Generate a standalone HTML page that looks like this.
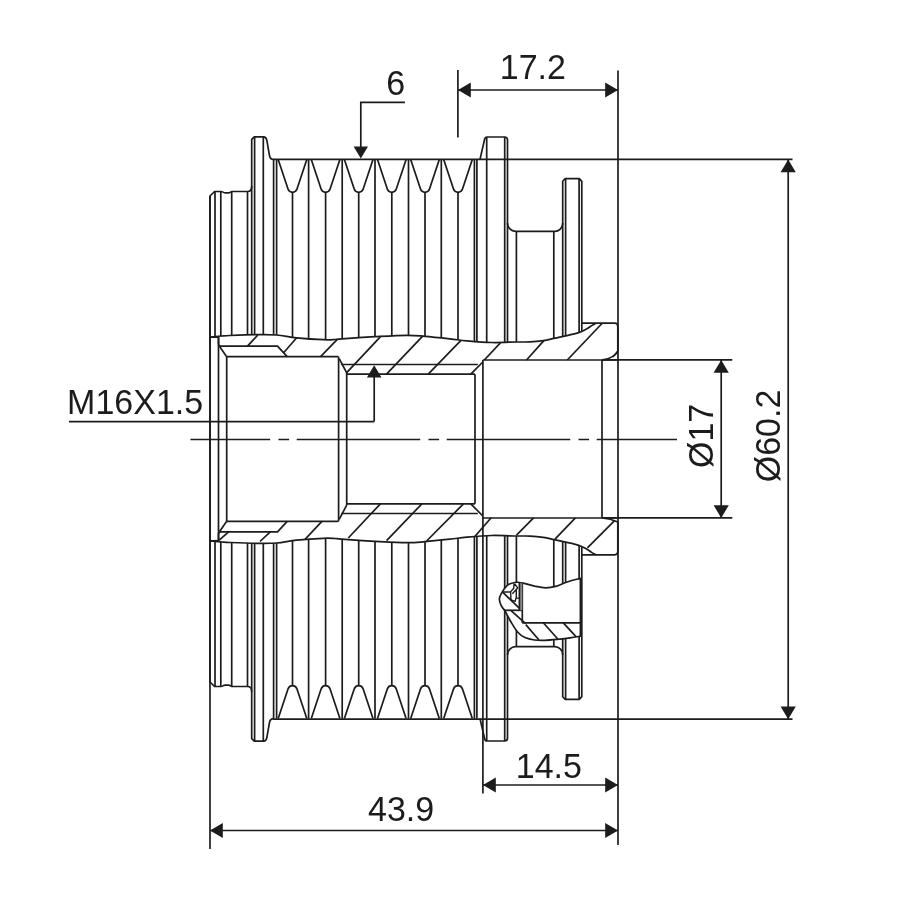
<!DOCTYPE html>
<html><head><meta charset="utf-8"><title>Pulley drawing</title>
<style>
html,body{margin:0;padding:0;background:#fff;}
body{width:900px;height:900px;overflow:hidden;}
svg{display:block;will-change:transform;}
.g path{fill:none;stroke:#1c1c1c;stroke-width:1.7;stroke-linecap:butt;stroke-linejoin:round;}
.d path{fill:none;stroke:#1c1c1c;stroke-width:1.7;}
text{font-family:"Liberation Sans",Arial,sans-serif;font-size:34px;fill:#1c1c1c;}
</style></head><body>
<svg width="900" height="900" viewBox="0 0 900 900">
<rect width="900" height="900" fill="#fff"/>
<g class="g">
<g id="uh"><path d="M210,439.0 L210,196 L214.6,191.5 L221,191.5 C223,191.5 223,192.8 225,192.8 L228.6,192.8 C230.5,192.8 230.5,191.5 232,191.5 L247.5,191.5 C250.5,191.5 251.7,190 251.7,186.5 L251.7,139.4 L254.3,136.9 L263.6,136.9 C265.6,136.9 266.3,137.8 266.8,140.2 L269.5,155.6 C270,158.4 271,159.4 273.6,159.4"/><path d="M278.20,159.40 L288.00,189.10 A4.75,4.75 0 0 0 297.00,189.10 L306.80,159.40"/><path d="M292.50,192.40 L292.50,337.21"/><path d="M311.30,159.40 L321.10,189.10 A4.75,4.75 0 0 0 330.10,189.10 L339.90,159.40"/><path d="M325.60,192.40 L325.60,339.66"/><path d="M344.40,159.40 L354.20,189.10 A4.75,4.75 0 0 0 363.20,189.10 L373.00,159.40"/><path d="M358.70,192.40 L358.70,337.73"/><path d="M377.50,159.40 L387.30,189.10 A4.75,4.75 0 0 0 396.30,189.10 L406.10,159.40"/><path d="M391.80,192.40 L391.80,335.96"/><path d="M410.70,159.40 L420.50,189.10 A4.75,4.75 0 0 0 429.50,189.10 L439.30,159.40"/><path d="M425.00,192.40 L425.00,336.30"/><path d="M443.70,159.40 L453.50,189.10 A4.75,4.75 0 0 0 462.50,189.10 L472.30,159.40"/><path d="M458.00,192.40 L458.00,339.76"/><path d="M276.60,159.40 L276.60,335.00"/><path d="M308.60,159.40 L308.60,338.65"/><path d="M342.20,159.40 L342.20,338.77"/><path d="M375.00,159.40 L375.00,336.70"/><path d="M408.50,159.40 L408.50,335.40"/><path d="M441.30,159.40 L441.30,337.93"/><path d="M474.40,159.40 L474.40,341.32"/><path d="M215.00,191.50 L215.00,336.60"/><path d="M220.80,191.50 L220.80,336.10"/><path d="M231.70,191.50 L231.70,335.45"/><path d="M247.50,191.50 L247.50,334.98"/><path d="M251.70,186.00 L251.70,334.85"/><path d="M254.60,136.90 L254.60,334.76"/><path d="M263.30,136.90 L263.30,334.80"/><path d="M273.60,159.40 L273.60,334.95"/><path d="M476.90,159.40 L476.90,341.49"/><path d="M486.70,137.00 L486.70,342.16"/><path d="M504.70,137.00 L504.70,342.24"/><path d="M516.40,231.30 L516.40,342.01"/><path d="M553.80,231.30 L553.80,338.42"/><path d="M565.60,178.70 L565.60,335.84"/><path d="M579.10,178.70 L579.10,332.36"/><path d="M480,159.4 L484.6,139.2 C485,137.6 485.6,137 487,137 L504.6,137 C506.6,137 507.5,138 507.5,140 L507.5,223.3 A8,8 0 0 0 515.5,231.3 L554.5,231.3 A8,8 0 0 0 562.7,223.3 L562.7,181.3 L565,178.7 L579.3,178.7 L581.8,181.3 L581.8,331.34"/><path d="M507.50,223.00 L507.50,342.18"/><path d="M562.70,223.00 L562.70,336.47"/><path d="M210.00,337.20 C210.83,337.10 213.00,336.80 215.00,336.60 C217.00,336.40 219.50,336.18 222.00,336.00 C224.50,335.82 224.22,335.72 230.00,335.50 C235.78,335.28 248.92,334.78 256.70,334.70 C264.48,334.62 270.03,334.48 276.70,335.00 C283.37,335.52 288.93,337.02 296.70,337.80 C304.47,338.58 316.92,339.42 323.30,339.70 C329.68,339.98 331.93,339.65 335.00,339.50 C338.07,339.35 335.03,339.27 341.70,338.80 C348.37,338.33 364.17,337.28 375.00,336.70 C385.83,336.12 398.37,335.37 406.70,335.30 C415.03,335.23 417.78,335.72 425.00,336.30 C432.22,336.88 443.05,338.05 450.00,338.80 C456.95,339.55 459.75,340.18 466.70,340.80 C473.65,341.42 483.37,342.30 491.70,342.50 C500.03,342.70 510.32,342.10 516.70,342.00 C523.08,341.90 525.57,342.13 530.00,341.90 C534.43,341.67 539.32,341.18 543.30,340.60 C547.28,340.02 550.38,339.15 553.90,338.40 C557.42,337.65 560.98,336.85 564.40,336.10 C567.82,335.35 571.62,334.63 574.40,333.90 C577.18,333.17 578.87,332.63 581.10,331.70 C583.33,330.77 585.98,329.35 587.80,328.30 C589.62,327.25 590.67,326.23 592.00,325.40 C593.33,324.57 595.17,323.65 595.80,323.30"/><path d="M581.7,323.2 L614.8,323.2 C617,323.2 617.8,324.2 617.8,326.4 L617.8,351"/><path d="M210.00,337.20 L218.50,337.20"/><path d="M218.5,337.2 L218.5,343.8 C218.5,345.6 219.3,346.2 221,346.2 L277.5,346.2 L287.2,356.7"/><path d="M219.60,346.40 L226.70,356.70"/><path d="M226.70,356.70 L338.50,356.70"/><path d="M339.20,358.60 L346.70,372.80"/><path d="M341.20,364.50 L477.80,364.50"/><path d="M346.70,374.20 L475.00,374.20"/><path d="M470.80,374.20 L482.80,362.00"/><path d="M482.80,360.00 L617.00,360.00"/></g>
<use href="#uh" transform="translate(0,878.0) scale(1,-1)"/>
<path d="M617.8,351 Q614.2,358.4 602.6,359.8"/>
<path d="M617.8,527 L617.8,522 Q610.5,518.6 602.2,517.9"/>
<path d="M218.50,337.20 L218.50,540.80"/>
<path d="M226.70,356.70 L226.70,521.30"/>
<path d="M338.60,356.70 L338.60,521.30"/>
<path d="M346.70,372.80 L346.70,505.20"/>
<path d="M475.00,374.20 L475.00,503.80"/>
<path d="M602.00,360.00 L602.00,518.00"/>
<path d="M247.50,346.20 L257.80,335.00"/>
<path d="M283.60,352.80 L296.70,337.80"/>
<path d="M320.60,356.70 L337.30,339.40"/>
<path d="M346.70,372.60 L380.30,336.90"/>
<path d="M386.50,374.20 L422.70,336.20"/>
<path d="M428.20,374.20 L461.20,340.20"/>
<path d="M484.30,360.00 L500.40,342.90"/>
<path d="M526.50,360.00 L543.90,340.60"/>
<path d="M567.30,360.00 L602.00,323.50"/>
<path d="M612.60,357.00 L617.80,351.60"/>
<path d="M219.20,540.20 L228.60,531.80"/>
<path d="M260.00,541.50 L270.30,531.80"/>
<path d="M304.80,539.60 L321.90,521.30"/>
<path d="M348.30,538.00 L380.40,503.80"/>
<path d="M386.60,540.60 L421.90,503.80"/>
<path d="M426.60,541.00 L463.50,503.80"/>
<path d="M475.00,536.20 L491.20,517.80"/>
<path d="M516.50,535.20 L533.60,517.80"/>
<path d="M555.00,539.20 L575.40,517.80"/>
<path d="M587.40,547.90 L614.60,520.60"/>
<path d="M516.50,582.10 C515.13,582.52 510.62,583.05 508.30,584.60 C505.98,586.15 504.08,589.07 502.60,591.40 C501.12,593.73 499.63,596.22 499.40,598.60 C499.17,600.98 500.33,603.78 501.20,605.70 C502.07,607.62 504.03,609.37 504.60,610.10 L505.6,612.0 C506.50,613.67 508.97,618.63 511.00,622.00 C513.03,625.37 515.47,629.60 517.80,632.20 C520.13,634.80 522.23,636.30 525.00,637.60 C527.77,638.90 531.07,639.55 534.40,640.00 C537.73,640.45 541.28,640.40 545.00,640.30 C548.72,640.20 552.53,639.82 556.70,639.40 C560.87,638.98 566.05,638.33 570.00,637.80 C573.95,637.27 578.67,636.47 580.40,636.20 L580.4,578.3 C578.30,578.87 571.75,580.40 567.80,581.70 C563.85,583.00 560.40,585.08 556.70,586.10 C553.00,587.12 549.32,587.80 545.60,587.80 C541.88,587.80 538.12,586.88 534.40,586.10 C530.68,585.32 526.28,583.77 523.30,583.10 C520.32,582.43 517.63,582.27 516.50,582.10 Z" style="fill:#fff"/>
<path d="M504.60,610.30 L522.30,610.30"/>
<path d="M522.30,583.20 L522.30,622.80"/>
<path d="M522.20,622.80 L580.40,622.80"/>
<path d="M510.80,610.40 L525.60,623.60"/>
<path d="M525.80,624.60 L539.00,640.00"/>
<path d="M543.30,622.80 L557.80,639.00"/>
<path d="M563.30,622.80 L576.00,636.60"/>
<path d="M519.4,583.0 L522.3,583.4 L522.3,610.3 L519.4,610.3 Z" style="fill:#8a8a8a;stroke:none"/>
<path d="M519.40,583.00 L519.40,610.30"/>
<path d="M502.60,592.10 L519.20,608.10"/>
<path d="M514.1,583.5 L513.7,588.3 L510.6,591.9 L511,599.9 L515.2,601.4 L515.9,598.1 L519.2,598.1 M514.8,584 L517.7,587.9 L512.3,593.7 M516.3,590.1 L516.3,598.1 M502.6,592.0 L510.6,591.9" style="stroke-width:1.4"/>
</g>
<g class="d">
<path d="M273.00,159.40 L792.50,159.40"/>
<path d="M273.00,719.20 L792.50,719.20"/>
<path d="M210.00,196.00 L210.00,849.00"/>
<path d="M618.00,70.50 L618.00,845.00"/>
<path d="M482.90,360.00 L482.90,793.50"/>
<path d="M457.90,70.00 L457.90,137.60"/>
<path d="M458.00,90.00 L618.00,90.00"/>
<path d="M483.00,785.00 L618.00,785.00"/>
<path d="M210.00,830.50 L618.00,830.50"/>
<path d="M602.00,359.80 L732.30,359.80"/>
<path d="M602.00,517.90 L732.30,517.90"/>
<path d="M721.20,360.00 L721.20,518.00"/>
<path d="M788.20,159.40 L788.20,719.20"/>
<path d="M69.00,421.60 L374.20,421.60"/>
<path d="M374.20,421.60 L374.20,377.00"/>
<path d="M405,102.3 L360.8,102.3 L360.8,147"/>
<path d="M190.5,439.5 L677,439.5" style="stroke-width:1.35" stroke-dasharray="123.5 8.3 10.6 7.6" stroke-dashoffset="43.8"/>
</g>
<g><path d="M458.00,90.00 L470.80,82.40 L470.80,97.60 Z" fill="#1c1c1c" stroke="none"/>
<path d="M618.00,90.00 L605.20,97.60 L605.20,82.40 Z" fill="#1c1c1c" stroke="none"/>
<path d="M483.00,785.00 L495.80,777.40 L495.80,792.60 Z" fill="#1c1c1c" stroke="none"/>
<path d="M618.00,785.00 L605.20,792.60 L605.20,777.40 Z" fill="#1c1c1c" stroke="none"/>
<path d="M210.00,830.50 L222.80,822.90 L222.80,838.10 Z" fill="#1c1c1c" stroke="none"/>
<path d="M618.00,830.50 L605.20,838.10 L605.20,822.90 Z" fill="#1c1c1c" stroke="none"/>
<path d="M721.20,360.00 L728.80,372.80 L713.60,372.80 Z" fill="#1c1c1c" stroke="none"/>
<path d="M721.20,518.00 L713.60,505.20 L728.80,505.20 Z" fill="#1c1c1c" stroke="none"/>
<path d="M788.20,159.40 L795.80,172.20 L780.60,172.20 Z" fill="#1c1c1c" stroke="none"/>
<path d="M788.20,719.20 L780.60,706.40 L795.80,706.40 Z" fill="#1c1c1c" stroke="none"/>
<path d="M374.20,365.20 L381.50,377.40 L366.90,377.40 Z" fill="#1c1c1c" stroke="none"/>
<path d="M360.80,158.60 L353.60,146.40 L368.00,146.40 Z" fill="#1c1c1c" stroke="none"/></g>
<g><text transform="translate(386.3,95.0) scale(1,1.045)">6</text>
<text transform="translate(499.8,79.1) scale(1,1.045)">17.2</text>
<text transform="translate(67.1,414.4) scale(1,1.045)">M16X1.5</text>
<text transform="translate(515.8,777.8) scale(1,1.045)">14.5</text>
<text transform="translate(368.0,820.5) scale(1,1.045)">43.9</text>
<text transform="translate(713.0,468.0) rotate(-90) scale(1,1.045)">&#216;17</text>
<text transform="translate(780.2,482.3) rotate(-90) scale(1,1.045)">&#216;60.2</text></g>
</svg>
</body></html>
